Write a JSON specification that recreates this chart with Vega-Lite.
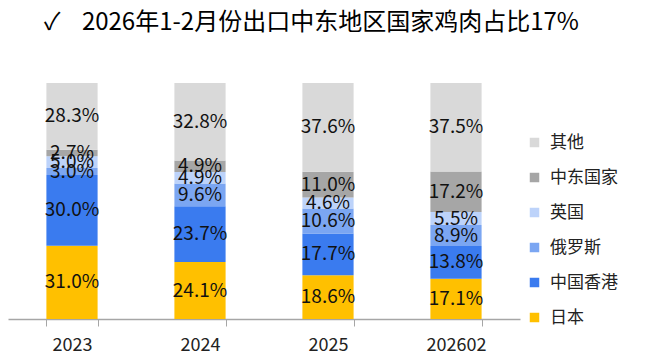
{
  "$schema": "https://vega.github.io/schema/vega-lite/v6.json",
  "width": 512,
  "height": 236,
  "autosize": {"type": "none"},
  "padding": {"left": 8, "top": 83, "right": 139, "bottom": 36},
  "background": "white",
  "title": {
    "text": "✓\u00a0\u00a0\u00a0\u00a02026年1-2月份出口中东地区国家鸡肉占比17%",
    "anchor": "start",
    "frame": "group",
    "dx": 36,
    "offset": 48,
    "fontSize": 24,
    "font": "Noto Sans CJK SC",
    "fontWeight": "normal",
    "color": "#000000"
  },
  "config": {"view": {"stroke": null}, "font": "Noto Sans CJK SC"},
  "data": {
    "values": [
      {"year": "2023", "region": "日本", "value": 31.0, "ord": 1},
      {"year": "2023", "region": "中国香港", "value": 30.0, "ord": 2},
      {"year": "2023", "region": "俄罗斯", "value": 3.0, "ord": 3},
      {"year": "2023", "region": "英国", "value": 5.0, "ord": 4},
      {"year": "2023", "region": "中东国家", "value": 2.7, "ord": 5},
      {"year": "2023", "region": "其他", "value": 28.3, "ord": 6},
      {"year": "2024", "region": "日本", "value": 24.1, "ord": 1},
      {"year": "2024", "region": "中国香港", "value": 23.7, "ord": 2},
      {"year": "2024", "region": "俄罗斯", "value": 9.6, "ord": 3},
      {"year": "2024", "region": "英国", "value": 4.9, "ord": 4},
      {"year": "2024", "region": "中东国家", "value": 4.9, "ord": 5},
      {"year": "2024", "region": "其他", "value": 32.8, "ord": 6},
      {"year": "2025", "region": "日本", "value": 18.6, "ord": 1},
      {"year": "2025", "region": "中国香港", "value": 17.7, "ord": 2},
      {"year": "2025", "region": "俄罗斯", "value": 10.6, "ord": 3},
      {"year": "2025", "region": "英国", "value": 4.6, "ord": 4},
      {"year": "2025", "region": "中东国家", "value": 11.0, "ord": 5},
      {"year": "2025", "region": "其他", "value": 37.6, "ord": 6},
      {"year": "202602", "region": "日本", "value": 17.1, "ord": 1},
      {"year": "202602", "region": "中国香港", "value": 13.8, "ord": 2},
      {"year": "202602", "region": "俄罗斯", "value": 8.9, "ord": 3},
      {"year": "202602", "region": "英国", "value": 5.5, "ord": 4},
      {"year": "202602", "region": "中东国家", "value": 17.2, "ord": 5},
      {"year": "202602", "region": "其他", "value": 37.5, "ord": 6}
    ]
  },
  "encoding": {
    "x": {
      "field": "year",
      "type": "nominal",
      "sort": null,
      "scale": {"paddingInner": 0.6, "paddingOuter": 0.3},
      "axis": {
        "title": null,
        "labelAngle": 0,
        "labelFontSize": 18,
        "labelColor": "#222222",
        "labelPadding": 10,
        "tickBand": "extent",
        "tickSize": 7,
        "tickColor": "#A6A6A6",
        "domainColor": "#A6A6A6",
        "domainWidth": 1.5,
        "labelFont": "Noto Sans CJK SC"
      }
    },
    "y": {
      "field": "value",
      "type": "quantitative",
      "stack": "normalize",
      "scale": {"domain": [0, 1]},
      "axis": null
    },
    "order": {"field": "ord", "type": "quantitative", "sort": "ascending"}
  },
  "layer": [
    {
      "mark": {"type": "bar"},
      "encoding": {
        "color": {
          "field": "region",
          "type": "nominal",
          "scale": {
            "domain": ["其他", "中东国家", "英国", "俄罗斯", "中国香港", "日本"],
            "range": ["#D9D9D9", "#A6A6A6", "#BDD3FA", "#7BA6F2", "#3A7BEF", "#FFC000"]
          },
          "legend": {
            "title": null,
            "orient": "none",
            "legendX": 518,
            "legendY": 51,
            "symbolType": "square",
            "symbolSize": 90,
            "symbolStrokeWidth": 0,
            "labelFontSize": 17,
            "labelColor": "#222222",
            "labelOffset": 7,
            "rowPadding": 17,
            "labelFont": "Noto Sans CJK SC"
          }
        }
      }
    },
    {
      "mark": {
        "type": "text",
        "fontSize": 19,
        "color": "#111111",
        "baseline": "middle",
        "font": "Noto Sans CJK SC",
        "text": {"expr": "format(datum.value, '.1f') + '%'"}
      },
      "encoding": {
        "y": {
          "field": "value",
          "type": "quantitative",
          "stack": "normalize",
          "bandPosition": 0.5
        }
      }
    }
  ]
}
